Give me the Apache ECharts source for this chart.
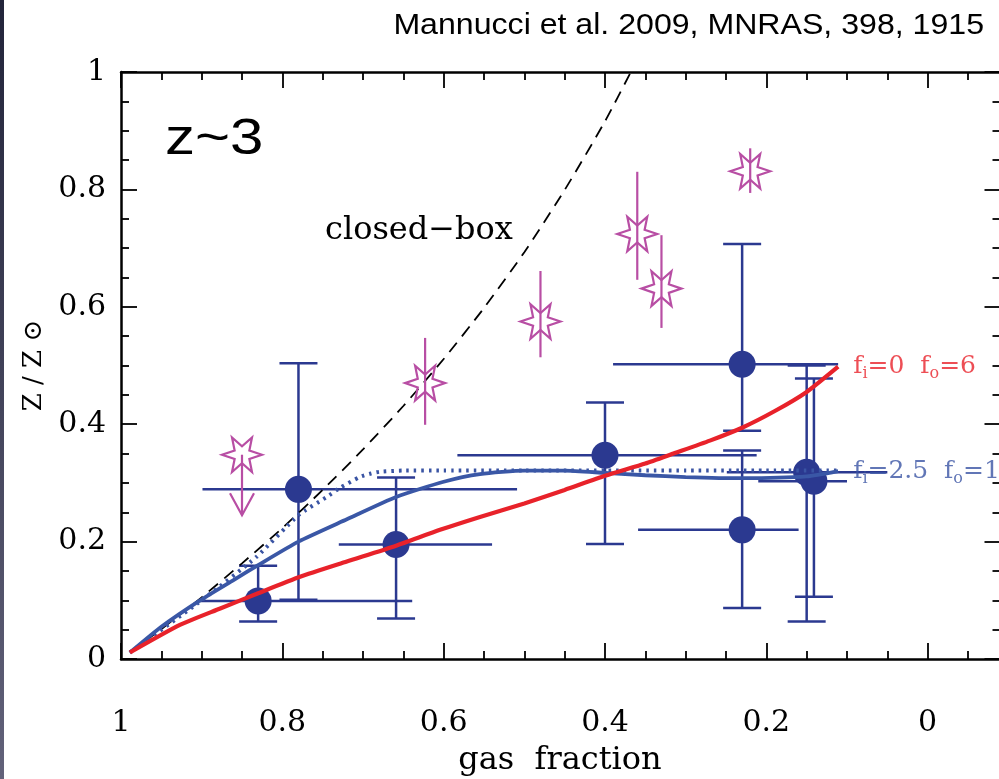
<!DOCTYPE html>
<html>
<head>
<meta charset="utf-8">
<script src="https://cdn.jsdelivr.net/npm/echarts@6/dist/echarts.min.js"></script>
<style>
  html, body { margin: 0; padding: 0; background: #ffffff; }
  #chart { width: 999px; height: 779px; }
</style>
</head>
<body>
<div id="chart"></div>
<script>
// Galaxies at z~3: gas fraction vs metallicity, with asymmetric error bars
const galGas   = [0.830, 0.780, 0.659, 0.400, 0.230, 0.230, 0.150, 0.141];
const galZ     = [0.099, 0.289, 0.195, 0.347, 0.502, 0.220, 0.318, 0.303];
const galGasLo = [0.639, 0.509, 0.540, 0.212, 0.111, 0.160, 0.050, 0.100];
const galGasHi = [0.902, 0.899, 0.730, 0.583, 0.390, 0.359, 0.249, 0.210];
const galZLo   = [0.064, 0.101, 0.069, 0.196, 0.389, 0.087, 0.064, 0.106];
const galZHi   = [0.159, 0.504, 0.309, 0.437, 0.707, 0.355, 0.500, 0.478];

// Star-marked objects with vertical errors (first one is an upper limit)
const starGas   = [0.850, 0.623, 0.480, 0.360, 0.330, 0.220];
const starZ     = [0.348, 0.470, 0.575, 0.724, 0.631, 0.831];
const starZLo   = [0.245, 0.399, 0.514, 0.646, 0.564, 0.794];
const starZHi   = [null, 0.547, 0.661, 0.830, 0.722, 0.870];
const starLimit = [true, false, false, false, false, false];

// Closed-box model
const boxGas = [0.989, 0.95, 0.90, 0.85, 0.80, 0.75, 0.70, 0.65, 0.60, 0.55, 0.50, 0.45, 0.40, 0.368];
const boxZ   = [0.011, 0.051, 0.105, 0.163, 0.223, 0.288, 0.357, 0.431, 0.511, 0.598, 0.693, 0.799, 0.916, 1.000];

// Outflow-only model: f_i=0, f_o=6
const redGas = [0.989, 0.927, 0.877, 0.830, 0.778, 0.720, 0.659, 0.6045, 0.555, 0.50, 0.45, 0.40, 0.35, 0.315, 0.27, 0.23, 0.19, 0.15, 0.111];
const redZ   = [0.011, 0.058, 0.086, 0.112, 0.140, 0.166, 0.193, 0.220, 0.242, 0.265, 0.288, 0.312, 0.333, 0.350, 0.372, 0.394, 0.422, 0.455, 0.498];

// Infall + outflow model: f_i=2.5, f_o=1
const blueGas = [0.989, 0.95, 0.902, 0.86, 0.83, 0.78, 0.72, 0.659, 0.60, 0.555, 0.50, 0.45, 0.40, 0.35, 0.30, 0.23, 0.15, 0.111];
const blueZ   = [0.011, 0.055, 0.100, 0.135, 0.160, 0.200, 0.238, 0.276, 0.302, 0.315, 0.321, 0.321, 0.317, 0.313, 0.310, 0.308, 0.311, 0.320];

// Same model, alternative parametrisation (dotted)
const dotGas = [0.989, 0.90, 0.832, 0.78, 0.745, 0.728, 0.704, 0.69, 0.679, 0.65, 0.60, 0.50, 0.40, 0.30, 0.20, 0.111];
const dotZ   = [0.011, 0.100, 0.174, 0.245, 0.276, 0.292, 0.310, 0.316, 0.319, 0.321, 0.321, 0.321, 0.321, 0.321, 0.321, 0.321];

const gasTickValues = [1, 0.8, 0.6, 0.4, 0.2, 0];

const pairs = (xs, ys) => xs.map((x, i) => [x, ys[i]]);

const INK = '#000000';
const PT_BLUE = '#2b3990';
const MODEL_BLUE = '#3a57a6';
const LABEL_BLUE = '#3a54a4';
const RED = '#e8222a';
const MAGENTA = '#b84ea4';
const SERIF = 'DejaVu Serif';

function xAxisCfg(position, showLabels) {
  return {
    type: 'value', position: position, inverse: true,
    min: -0.2, max: 1, interval: 0.2,
    axisLine: { show: true, onZero: false, lineStyle: { color: INK, width: 2.5 } },
    axisTick: { show: true, inside: true, length: 16, lineStyle: { color: INK, width: 1.8 } },
    minorTick: { show: true, splitNumber: 4, length: 8, lineStyle: { color: INK, width: 1.8 } },
    splitLine: { show: false }, minorSplitLine: { show: false },
    axisLabel: {
      show: showLabels, margin: 49, fontFamily: SERIF, fontSize: 30, color: INK,
      formatter: v => {
        const r = Math.round(v * 100) / 100;
        return gasTickValues.indexOf(r) >= 0 ? String(r) : '';
      }
    }
  };
}

function yAxisCfg(position, showLabels, offset) {
  return {
    type: 'value', position: position, offset: offset,
    min: 0, max: 1, interval: 0.2,
    axisLine: { show: true, onZero: false, lineStyle: { color: INK, width: 2.5 } },
    axisTick: { show: true, inside: true, length: 16, lineStyle: { color: INK, width: 1.8 } },
    minorTick: { show: true, splitNumber: 4, length: 8, lineStyle: { color: INK, width: 1.8 } },
    splitLine: { show: false }, minorSplitLine: { show: false },
    axisLabel: { show: showLabels, margin: 15, fontFamily: SERIF, fontSize: 30, color: INK }
  };
}

const yLeft = yAxisCfg('left', true, 0);
yLeft.name = 'Z / Z \u2299';
yLeft.nameLocation = 'middle';
yLeft.nameGap = 64;
yLeft.nameTextStyle = { fontFamily: SERIF, fontSize: 26, color: INK };

function errorBarItem(params, api) {
  const x = api.value(0), y = api.value(1);
  const pL = api.coord([api.value(2), y]);
  const pR = api.coord([api.value(3), y]);
  const pB = api.coord([x, api.value(4)]);
  const pT = api.coord([x, api.value(5)]);
  const cap = 19;
  const style = { stroke: PT_BLUE, lineWidth: 2.5, fill: null };
  const seg = (x1, y1, x2, y2) => ({ type: 'line', shape: { x1, y1, x2, y2 }, style });
  return {
    type: 'group',
    children: [
      seg(pL[0], pL[1], pR[0], pR[1]),
      seg(pB[0], pB[1], pT[0], pT[1]),
      seg(pB[0] - cap, pB[1], pB[0] + cap, pB[1]),
      seg(pT[0] - cap, pT[1], pT[0] + cap, pT[1])
    ]
  };
}

function starItem(params, api) {
  const c = api.coord([api.value(0), api.value(1)]);
  const pLo = api.coord([api.value(0), api.value(2)]);
  const pHi = api.coord([api.value(0), api.value(3)]);
  const isLimit = api.value(4) === 1;
  const stroke = { stroke: MAGENTA, lineWidth: 2.2, fill: null };
  const R = 20, r = 8.5;
  const pts = [];
  for (let k = 0; k < 12; k++) {
    const a = k * Math.PI / 6;
    const rad = k % 2 === 0 ? R : r;
    pts.push([c[0] + rad * Math.cos(a), c[1] - rad * Math.sin(a)]);
  }
  const children = [];
  if (isLimit) {
    children.push({ type: 'line', shape: { x1: c[0], y1: c[1], x2: pLo[0], y2: pLo[1] }, style: stroke });
    children.push({ type: 'polyline', shape: { points: [[pLo[0] - 12, pLo[1] - 22], [pLo[0], pLo[1]], [pLo[0] + 12, pLo[1] - 22]] }, style: stroke });
  } else {
    children.push({ type: 'line', shape: { x1: pLo[0], y1: pLo[1], x2: pHi[0], y2: pHi[1] }, style: stroke });
  }
  children.push({ type: 'polygon', shape: { points: pts }, style: { stroke: MAGENTA, lineWidth: 2.2, fill: 'rgba(0,0,0,0)' } });
  return { type: 'group', children };
}

const labelRich = (color) => ({
  m: { fontFamily: SERIF, fontSize: 25, color: color },
  s: { fontFamily: SERIF, fontSize: 16, color: color, padding: [15, 0, 0, 0] }
});

const chart = echarts.init(document.getElementById('chart'), null, { renderer: 'canvas' });

chart.setOption({
  backgroundColor: '#ffffff',
  animation: false,
  grid: { left: 121, right: -90, top: 72, bottom: 120, containLabel: false, outerBoundsMode: 'none' },
  xAxis: [xAxisCfg('bottom', true), xAxisCfg('top', false)],
  yAxis: [yLeft, yAxisCfg('right', false, -88.5)],
  graphic: [
    {
      type: 'rect', left: 0, top: 0, silent: true,
      shape: { width: 4, height: 779 },
      style: { fill: new echarts.graphic.LinearGradient(0, 0, 0, 1, [
        { offset: 0, color: '#22243a' }, { offset: 1, color: '#62627a' }
      ]) }
    },
    {
      type: 'text', x: 984, y: 26, scaleX: 1.07, silent: true,
      style: { text: 'Mannucci et al. 2009, MNRAS, 398, 1915', fill: INK,
        font: '30px "Liberation Sans", Arial, sans-serif', align: 'right', verticalAlign: 'middle' }
    },
    {
      type: 'text', x: 165, y: 140, scaleX: 1.2, silent: true,
      style: { text: 'z~3', fill: INK, font: '50px "Liberation Sans", Arial, sans-serif', align: 'left', verticalAlign: 'middle' }
    },
    {
      type: 'text', x: 325, y: 231, silent: true,
      style: { text: 'closed\u2212box', fill: INK, font: '32px "DejaVu Serif", serif', align: 'left', verticalAlign: 'middle' }
    },
    {
      type: 'text', x: 560, y: 761, silent: true,
      style: { text: 'gas  fraction', fill: INK, font: '32px "DejaVu Serif", serif', align: 'center', verticalAlign: 'middle' }
    }
  ],
  series: [
    {
      type: 'custom', name: 'errors', z: 2, clip: false,
      data: galGas.map((g, i) => [g, galZ[i], galGasLo[i], galGasHi[i], galZLo[i], galZHi[i]]),
      encode: { x: 0, y: 1 },
      renderItem: errorBarItem
    },
    {
      type: 'scatter', name: 'galaxies', z: 3,
      data: pairs(galGas, galZ),
      symbol: 'circle', symbolSize: 27,
      itemStyle: { color: PT_BLUE, opacity: 1 }
    },
    {
      type: 'line', name: 'closed-box', z: 4,
      data: pairs(boxGas, boxZ),
      showSymbol: false, smooth: 0.2,
      lineStyle: { color: INK, width: 1.8, type: [12, 8] }
    },
    {
      type: 'line', name: 'dotted model', z: 4,
      data: pairs(dotGas, dotZ),
      showSymbol: false, smooth: 0.2,
      lineStyle: { color: LABEL_BLUE, width: 4, type: [2.5, 5], cap: 'butt' }
    },
    {
      type: 'line', name: 'f_i=2.5 f_o=1', z: 5,
      data: pairs(blueGas, blueZ),
      showSymbol: false, smooth: 0.2,
      lineStyle: { color: MODEL_BLUE, width: 3.8 }
    },
    {
      type: 'line', name: 'f_i=0 f_o=6', z: 6,
      data: pairs(redGas, redZ),
      showSymbol: false, smooth: 0.2,
      lineStyle: { color: RED, width: 4.2 }
    },
    {
      type: 'custom', name: 'stars', z: 7, clip: false,
      data: starGas.map((g, i) => [g, starZ[i], starZLo[i], starZHi[i] === null ? starZ[i] : starZHi[i], starLimit[i] ? 1 : 0]),
      encode: { x: 0, y: 1 },
      renderItem: starItem
    },
    {
      type: 'scatter', name: 'model labels', z: 8, silent: true,
      symbolSize: 0,
      data: [
        { value: [redGas[redGas.length - 1], redZ[redZ.length - 1]],
          label: { show: true, position: 'right', distance: 15,
            formatter: '{m|f}{s|i}{m|=0  f}{s|o}{m|=6}', rich: labelRich(RED) } },
        { value: [blueGas[blueGas.length - 1], blueZ[blueZ.length - 1]],
          label: { show: true, position: 'right', distance: 15,
            formatter: '{m|f}{s|i}{m|=2.5  f}{s|o}{m|=1}', rich: labelRich(LABEL_BLUE) } }
      ]
    }
  ]
});
</script>
</body>
</html>
